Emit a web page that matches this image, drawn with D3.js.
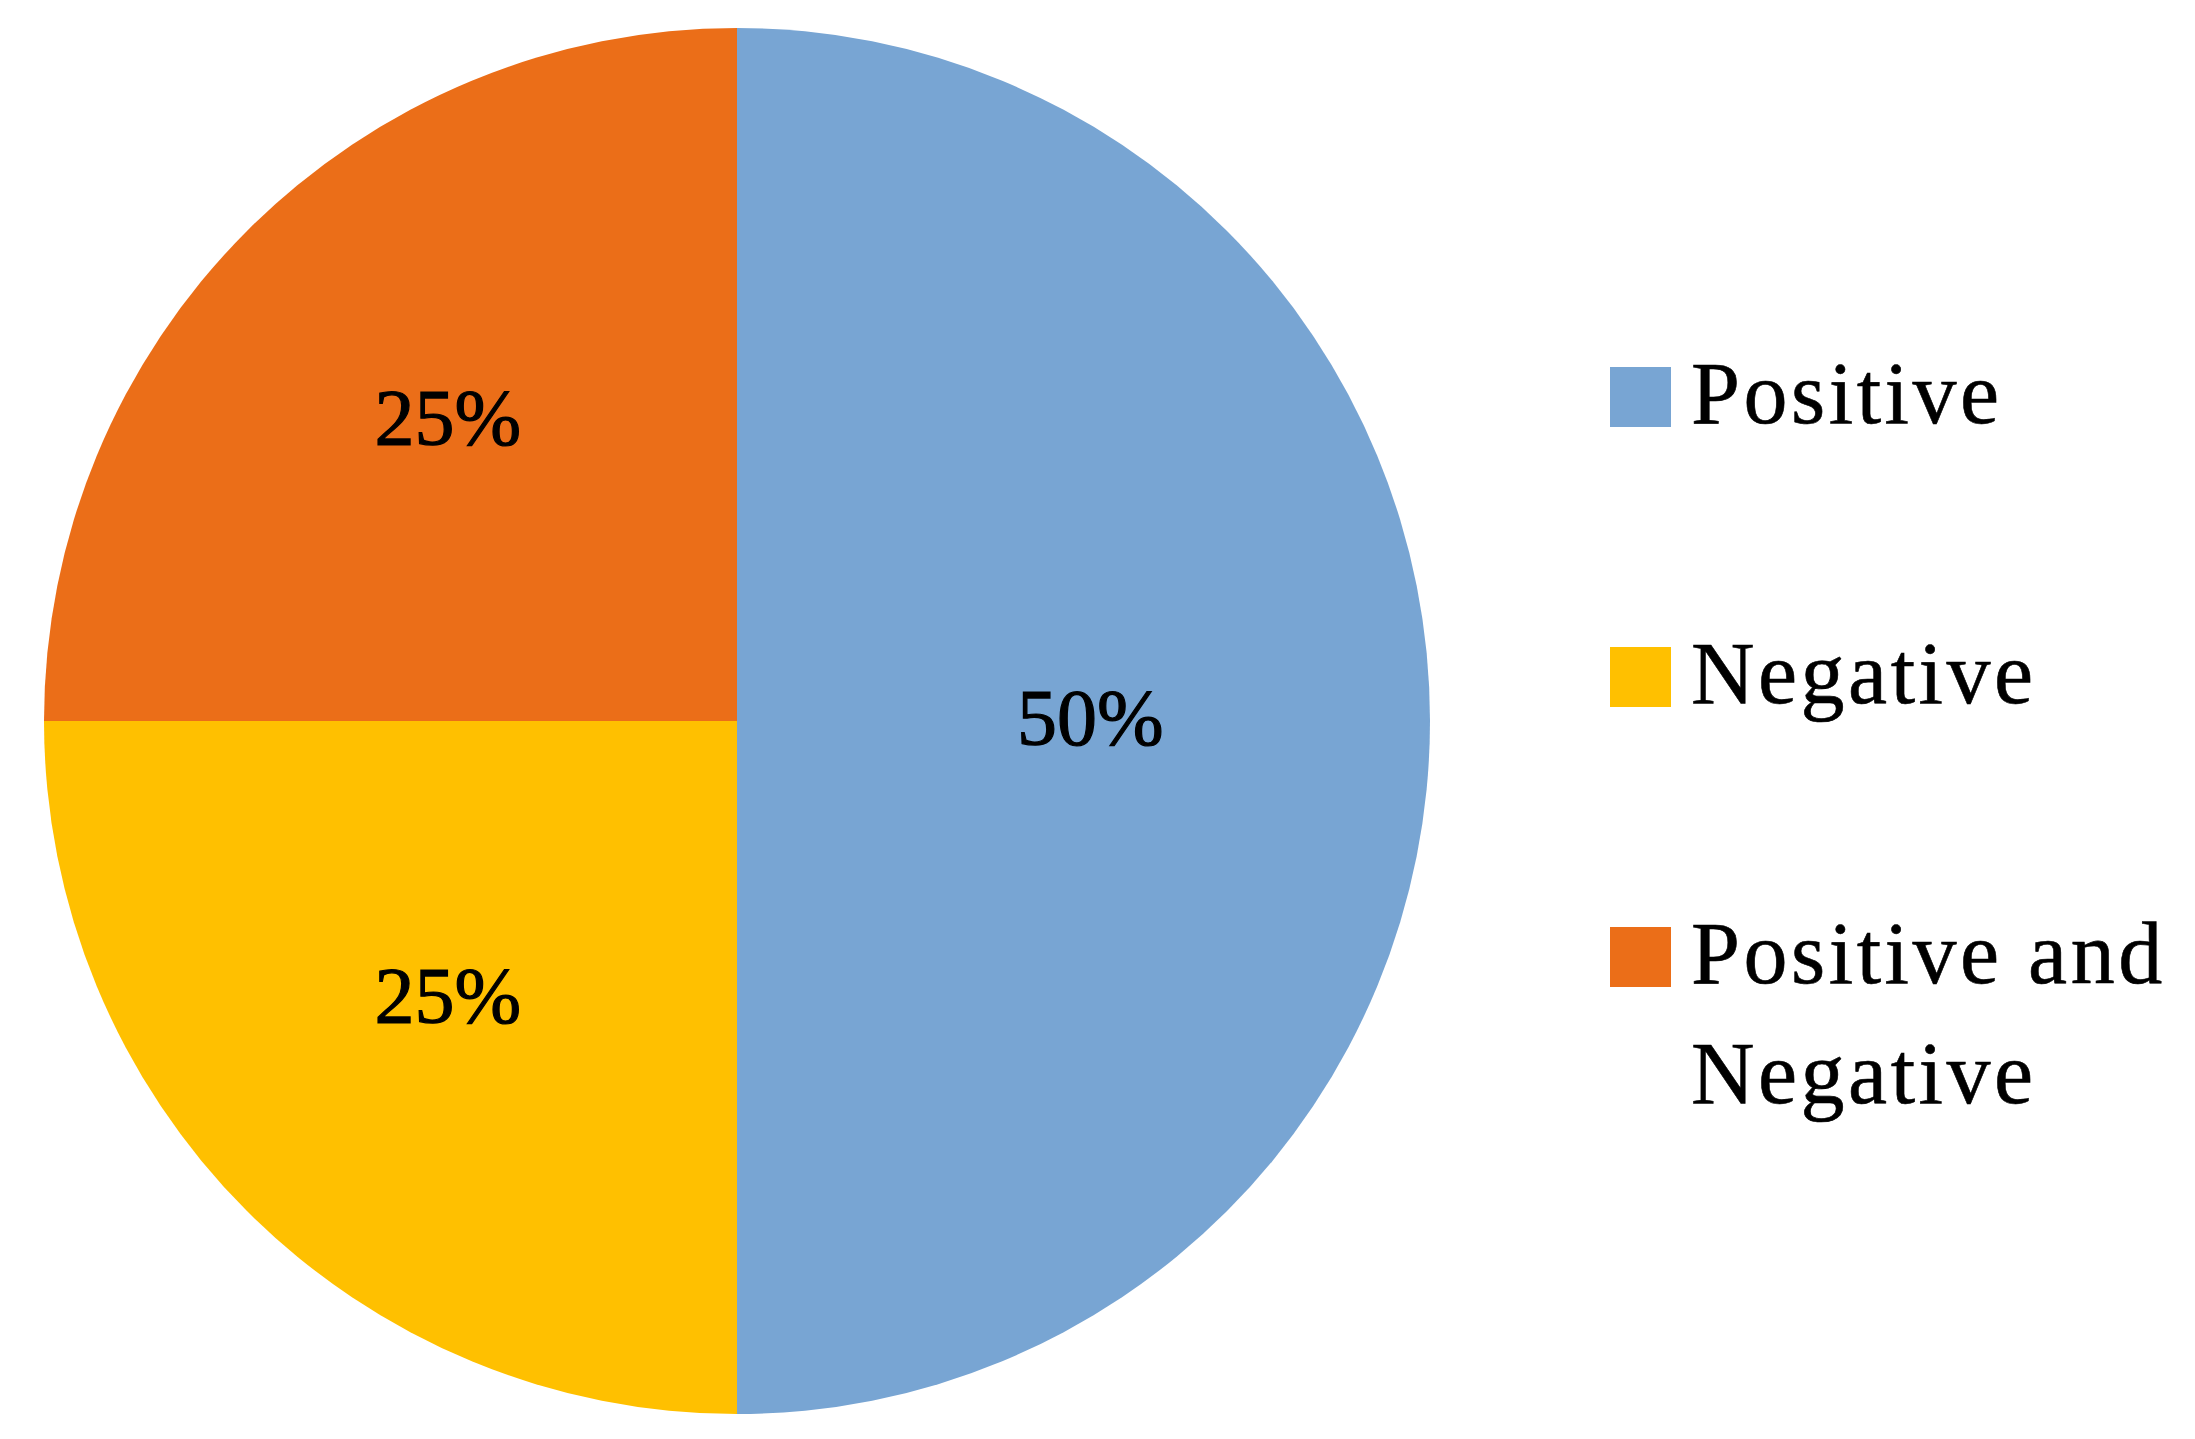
<!DOCTYPE html>
<html>
<head>
<meta charset="utf-8">
<script src="https://cdn.jsdelivr.net/npm/d3@7"></script>
<style>
  html, body { margin: 0; padding: 0; background: #ffffff; }
  svg { display: block; }
  text { font-family: "Liberation Serif", "Times New Roman", serif; fill: #000; }
</style>
</head>
<body>
<svg id="chart" width="2195" height="1439"></svg>
<script>
const categories = ["Positive", "Negative", "Positive and Negative"];
const values = [50, 25, 25];
const colors = ["#78A5D3", "#FFC000", "#EB6E18"];

const svg = d3.select("#chart");
const cx = 737, cy = 721, R = 693;

const pie = d3.pie().value(d => d.value).sort(null);
const data = categories.map((c, i) => ({ name: c, value: values[i], color: colors[i] }));
const arcs = pie(data);
const arc = d3.arc().innerRadius(0).outerRadius(R);

const g = svg.append("g").attr("transform", `translate(${cx},${cy})`);
g.selectAll("path.slice").data(arcs).enter().append("path")
  .attr("class", "slice")
  .attr("d", arc)
  .attr("fill", d => d.data.color);

const total = d3.sum(values);
const fmt = v => Math.round(v / total * 100) + "%";

g.selectAll("text.lbl").data(arcs).enter().append("text")
  .attr("class", "lbl")
  .attr("text-anchor", "middle")
  .attr("font-size", 80)
  .attr("stroke", "#000")
  .attr("stroke-width", 1.2)
  .attr("transform", d => {
    const big = (d.endAngle - d.startAngle) > Math.PI * 0.9;
    const lr = R * (big ? 0.51 : 0.59);
    const a = (d.startAngle + d.endAngle) / 2;
    const x = Math.sin(a) * lr, y = -Math.cos(a) * lr;
    return `translate(${x},${y + (big ? 24 : 13)})`;
  })
  .text(d => fmt(d.data.value));

// Legend
const legX = 1610, legY0 = 367, legStep = 280, sw = 61;
const textX = 1691, lineH = 120, maxW = 490;
const leg = svg.append("g");
data.forEach((d, i) => {
  const y = legY0 + i * legStep;
  leg.append("rect").attr("x", legX).attr("y", y).attr("width", sw).attr("height", sw - 1)
    .attr("fill", d.color);
  const t = leg.append("text").attr("x", textX).attr("y", y + 56)
    .attr("font-size", 88).attr("letter-spacing", 3.5)
    .attr("stroke", "#000").attr("stroke-width", 0.6);
  const words = d.name.split(" ");
  let line = [];
  let ts = t.append("tspan").attr("x", textX).attr("y", y + 56);
  let ln = 0;
  words.forEach(w => {
    line.push(w);
    ts.text(line.join(" "));
    if (ts.node().getComputedTextLength() > maxW && line.length > 1) {
      line.pop();
      ts.text(line.join(" "));
      line = [w];
      ln++;
      ts = t.append("tspan").attr("x", textX).attr("y", y + 56 + ln * lineH).text(w);
    }
  });
});
</script>
</body>
</html>
